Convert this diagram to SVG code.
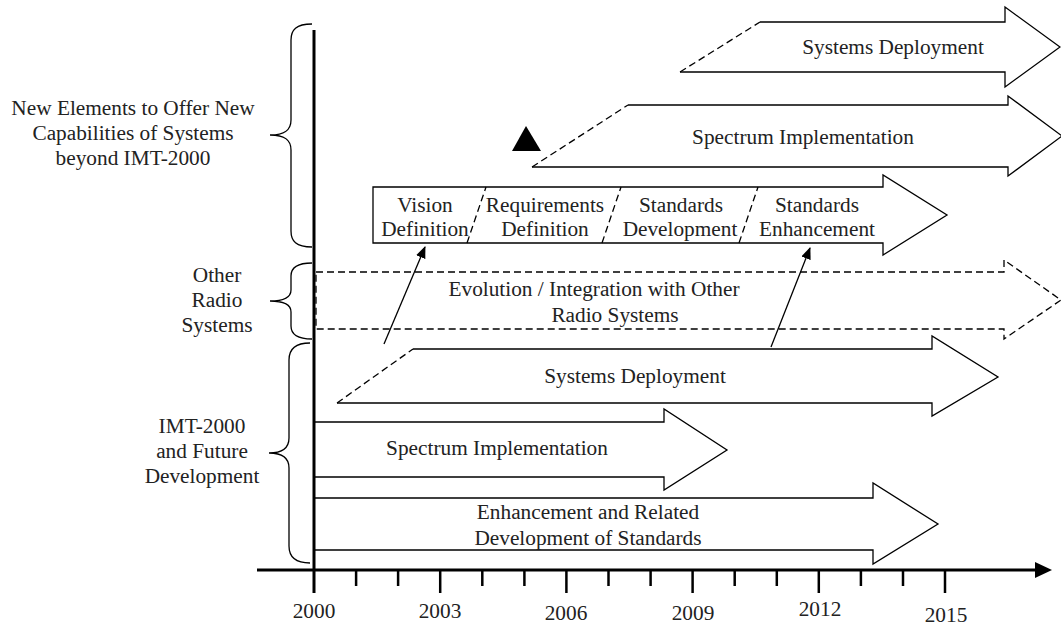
<svg xmlns="http://www.w3.org/2000/svg" width="1061" height="626" viewBox="0 0 1061 626">
<defs>
<style>
.t{font-family:"Liberation Serif","Times New Roman",serif;font-size:21.3px;fill:#222;text-anchor:middle}
.s{fill:none;stroke:#000;stroke-width:1.3;stroke-linejoin:miter}
.d{fill:none;stroke:#000;stroke-width:1.3;stroke-dasharray:7 4}
.ax{stroke:#000;stroke-width:3;fill:none}
.tk{stroke:#000;stroke-width:2.5}
.br{fill:none;stroke:#000;stroke-width:1.3}
</style>
<marker id="ah" viewBox="0 0 12 10" refX="11" refY="5" markerWidth="12" markerHeight="10" markerUnits="userSpaceOnUse" orient="auto">
<path d="M0,0 L12,5 L0,10 Z" fill="#000"/>
</marker>
</defs>
<rect width="1061" height="626" fill="#fff"/>

<g id="axes">
<line class="ax" x1="314" y1="30" x2="314" y2="593"/>
<line class="ax" x1="257" y1="570" x2="1038" y2="570"/>
<polygon points="1035,562 1052,570 1035,578" fill="#000"/>
<g class="tk">
<line x1="356.1" y1="570" x2="356.1" y2="586"/>
<line x1="398.1" y1="570" x2="398.1" y2="586"/>
<line x1="440.2" y1="570" x2="440.2" y2="593"/>
<line x1="482.3" y1="570" x2="482.3" y2="586"/>
<line x1="524.4" y1="570" x2="524.4" y2="586"/>
<line x1="566.4" y1="570" x2="566.4" y2="593"/>
<line x1="608.5" y1="570" x2="608.5" y2="586"/>
<line x1="650.6" y1="570" x2="650.6" y2="586"/>
<line x1="692.6" y1="570" x2="692.6" y2="593"/>
<line x1="734.7" y1="570" x2="734.7" y2="586"/>
<line x1="776.8" y1="570" x2="776.8" y2="586"/>
<line x1="818.8" y1="570" x2="818.8" y2="593"/>
<line x1="860.9" y1="570" x2="860.9" y2="586"/>
<line x1="903" y1="570" x2="903" y2="586"/>
<line x1="945" y1="570" x2="945" y2="593"/>
</g>
<text class="t" x="314" y="618">2000</text>
<text class="t" x="440" y="618">2003</text>
<text class="t" x="566" y="620">2006</text>
<text class="t" x="693" y="620">2009</text>
<text class="t" x="820" y="616">2012</text>
<text class="t" x="946" y="622">2015</text>
</g>

<g id="brace-new">
<path class="br" d="M312,24 C296,24 291,30 291,40 V120 C291,130 285,135 270,135 C285,135 291,140 291,150 V231 C291,241 296,247 312,247"/>
<text class="t" x="133" y="115">New Elements to Offer New</text>
<text class="t" x="133" y="140">Capabilities of Systems</text>
<text class="t" x="133" y="165">beyond IMT-2000</text>
</g>

<g id="brace-other">
<path class="br" d="M312,263 C297,263 291,268 291,276 V290 C291,297 284,301 270,301 C284,301 291,305 291,312 V326 C291,334 297,339 312,339"/>
<text class="t" x="217" y="282">Other</text>
<text class="t" x="217" y="307">Radio</text>
<text class="t" x="217" y="332">Systems</text>
</g>

<g id="brace-imt">
<path class="br" d="M310,343 C295,343 289,350 289,360 V438 C289,448 283,453 269,453 C283,453 289,458 289,468 V546 C289,556 295,563 310,563"/>
<text class="t" x="202" y="433">IMT-2000</text>
<text class="t" x="202" y="458">and Future</text>
<text class="t" x="202" y="483">Development</text>
</g>

<g id="top-deployment">
<path class="s" d="M760,22 H1005 V7 L1060,47 L1005,87 V72 H680"/>
<path class="d" d="M680,72 L760,22"/>
<text class="t" x="893" y="54">Systems Deployment</text>
</g>

<g id="top-spectrum">
<path class="s" d="M628,105 H1008 V96 L1062,136 L1008,176 V167 H532"/>
<path class="d" d="M532,167 L628,105"/>
<text class="t" x="803" y="144">Spectrum Implementation</text>
</g>

<g id="marker-triangle">
<polygon points="526,126 541,151 512,151" fill="#000"/>
</g>

<g id="phases">
<path class="s" d="M373,187 H883 V175 L947,215 L883,255 V243 H373 Z"/>
<path class="d" d="M467,243 L486,187 M602,243 L621,187 M739,243 L758,187"/>
<text class="t" x="425" y="212">Vision</text>
<text class="t" x="425" y="236">Definition</text>
<text class="t" x="545" y="212">Requirements</text>
<text class="t" x="545" y="236">Definition</text>
<text class="t" x="681" y="212">Standards</text>
<text class="t" x="680" y="236">Development</text>
<text class="t" x="817" y="212">Standards</text>
<text class="t" x="817" y="236">Enhancement</text>
</g>

<g id="evolution">
<path class="d" d="M316,272 H1004 V260 L1061,300 L1004,339 V329 H316 Z"/>
<text class="t" x="594" y="296">Evolution / Integration with Other</text>
<text class="t" x="615" y="322">Radio Systems</text>
</g>

<g id="lower-deployment">
<path class="s" d="M413,349 H932 V336 L998,377 L932,416 V403 H337"/>
<path class="d" d="M337,403 L413,349"/>
<text class="t" x="635" y="383">Systems Deployment</text>
</g>

<g id="lower-spectrum">
<path class="s" d="M314,422 H664 V409 L727,450 L664,490 V477 H314"/>
<text class="t" x="497" y="455">Spectrum Implementation</text>
</g>

<g id="enhancement">
<path class="s" d="M314,498 H873 V483 L938,524 L873,564 V550 H314"/>
<text class="t" x="588" y="519">Enhancement and Related</text>
<text class="t" x="588" y="545">Development of Standards</text>
</g>

<g id="connectors">
<line x1="384" y1="344" x2="425" y2="247" stroke="#000" stroke-width="1.3" marker-end="url(#ah)"/>
<line x1="771" y1="347" x2="810" y2="248" stroke="#000" stroke-width="1.3" marker-end="url(#ah)"/>
</g>
</svg>
